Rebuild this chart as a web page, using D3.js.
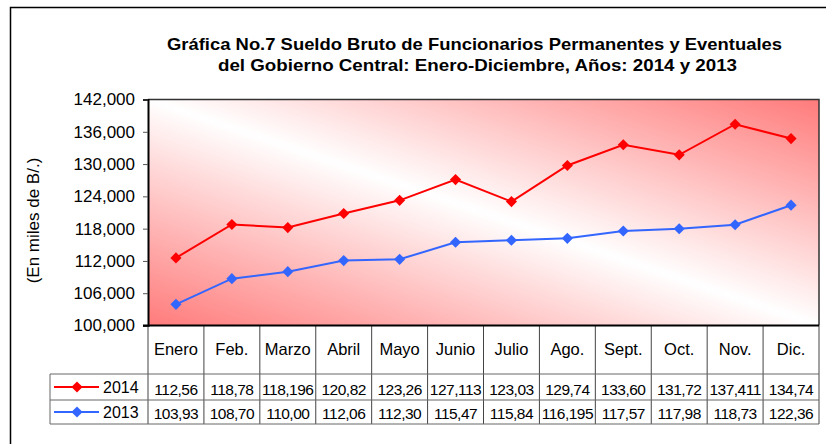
<!DOCTYPE html>
<html>
<head>
<meta charset="utf-8">
<script src="https://cdn.jsdelivr.net/npm/d3@7"></script>
<style>
html,body{margin:0;padding:0;background:#fff;}
svg{display:block;font-family:"Liberation Sans",Arial,sans-serif;}
</style>
</head>
<body>
<svg id="chart" width="826" height="444"></svg>
<script>
const months = ["Enero","Feb.","Marzo","Abril","Mayo","Junio","Julio","Ago.","Sept.","Oct.","Nov.","Dic."];
const values2014 = [112560,118780,118196,120820,123260,127113,123030,129740,133600,131720,137411,134740];
const values2013 = [103930,108700,110000,112060,112300,115470,115840,116195,117570,117980,118730,122360];
const labels2014 = ["112,56","118,78","118,196","120,82","123,26","127,113","123,03","129,74","133,60","131,72","137,411","134,74"];
const labels2013 = ["103,93","108,70","110,00","112,06","112,30","115,47","115,84","116,195","117,57","117,98","118,73","122,36"];
const yTicks = [100000,106000,112000,118000,124000,130000,136000,142000];
const seriesNames = ["2014","2013"];
const seriesColors = ["#FF0000","#3366FF"];

const svg = d3.select("#chart");
const L = 148, R = 819, T = 99.5, B = 325.5;

// outer border
svg.append("path").attr("d","M10.5,444 V7.5 H840").attr("fill","none").attr("stroke","#000").attr("stroke-width",1.5);

// title
const title = svg.append("text").attr("text-anchor","middle").attr("font-weight","bold").attr("font-size",17).attr("fill","#000");
title.append("tspan").attr("x",474.5).attr("y",50).attr("textLength",615).attr("lengthAdjust","spacingAndGlyphs")
  .text("Gráfica No.7 Sueldo Bruto de Funcionarios Permanentes y Eventuales");
title.append("tspan").attr("x",477.5).attr("y",70.5).attr("textLength",519).attr("lengthAdjust","spacingAndGlyphs")
  .text("del Gobierno Central: Enero-Diciembre, Años: 2014 y 2013");

const x = d3.scaleBand().domain(months).range([L,R]).padding(0);
const y = d3.scaleLinear().domain([100000,142000]).range([B,T]);

// gradient background
const defs = svg.append("defs");
const g = defs.append("linearGradient").attr("id","bg").attr("x1",0).attr("y1",1).attr("x2",1).attr("y2",0);
g.append("stop").attr("offset","0%").attr("stop-color","#FF7B7B");
g.append("stop").attr("offset","22%").attr("stop-color","#FFB4B4");
g.append("stop").attr("offset","50%").attr("stop-color","#FFFFFF");
g.append("stop").attr("offset","78%").attr("stop-color","#FFB4B4");
g.append("stop").attr("offset","100%").attr("stop-color","#FF7B7B");
svg.append("rect").attr("x",L).attr("y",T).attr("width",R-L).attr("height",B-T).attr("fill","url(#bg)");

// plot border top/right
svg.append("path").attr("d",`M${L},${T} H${R} V${B}`).attr("fill","none").attr("stroke","#333").attr("stroke-width",1.5);

// y axis
const yAxis = d3.axisLeft(y).tickValues(yTicks).tickSize(5).tickPadding(8).tickFormat(d3.format(","));
const ya = svg.append("g").attr("transform",`translate(${L},0)`).call(yAxis);
ya.select(".domain").attr("stroke","#000").attr("stroke-width",2);
ya.selectAll(".tick line").attr("stroke","#555");
ya.selectAll(".tick text").attr("font-size",17).attr("fill","#000").attr("font-family","Liberation Sans, Arial, sans-serif");

svg.append("text").attr("transform","translate(39,220.5) rotate(-90)").attr("text-anchor","middle")
  .attr("font-size",17).attr("fill","#000").text("(En miles de B/.)");

// table grid
const tableTop = B, row1 = 374, row2 = 400, row3 = 424, legL = 50;
const bounds = months.map(m => x(m)).concat([R]);
svg.append("g").selectAll("line").data(bounds).join("line")
  .attr("x1",d=>d).attr("x2",d=>d).attr("y1",tableTop).attr("y2",row3)
  .attr("stroke","#444").attr("stroke-width",1);
[row1,row2,row3].forEach(yy=>{
  svg.append("line").attr("x1",legL).attr("x2",R).attr("y1",yy).attr("y2",yy).attr("stroke","#666").attr("stroke-width",1);
});
svg.append("line").attr("x1",legL).attr("x2",legL).attr("y1",row1).attr("y2",row3).attr("stroke","#666");

// x axis line
svg.append("line").attr("x1",L-5).attr("x2",R).attr("y1",B).attr("y2",B).attr("stroke","#000").attr("stroke-width",2);

// month labels
svg.append("g").selectAll("text").data(months).join("text")
  .attr("x",d=>x(d)+x.bandwidth()/2).attr("y",355).attr("text-anchor","middle")
  .attr("font-size",16.5).attr("fill","#000").text(d=>d);

// values
const rowsY = [394.5,418.5];
[labels2014,labels2013].forEach((labs,i)=>{
  svg.append("g").selectAll("text").data(labs).join("text")
    .attr("x",(d,j)=>x(months[j])+x.bandwidth()/2).attr("y",rowsY[i]).attr("text-anchor","middle")
    .attr("font-size",15.5).attr("letter-spacing","-0.5px").attr("fill","#000").text(d=>d);
});

// lines & markers
const diamond = d3.symbol(d3.symbolSquare, 62);
[values2014,values2013].forEach((vals,i)=>{
  const line = d3.line().x((d,j)=>x(months[j])+x.bandwidth()/2).y(d=>y(d));
  svg.append("path").datum(vals).attr("d",line).attr("fill","none").attr("stroke",seriesColors[i]).attr("stroke-width",2);
  svg.append("g").selectAll("path").data(vals).join("path")
    .attr("d",diamond)
    .attr("transform",(d,j)=>`translate(${x(months[j])+x.bandwidth()/2},${y(d)}) rotate(45)`)
    .attr("fill",seriesColors[i]);
});

// legend
const legY = [387,412];
seriesNames.forEach((n,i)=>{
  svg.append("line").attr("x1",54).attr("x2",99).attr("y1",legY[i]).attr("y2",legY[i]).attr("stroke",seriesColors[i]).attr("stroke-width",2);
  svg.append("path").attr("d",diamond).attr("transform",`translate(77,${legY[i]}) rotate(45)`).attr("fill",seriesColors[i]);
  svg.append("text").attr("x",103).attr("y",legY[i]+6).attr("font-size",16).attr("fill","#000").text(n);
});
</script>
</body>
</html>
